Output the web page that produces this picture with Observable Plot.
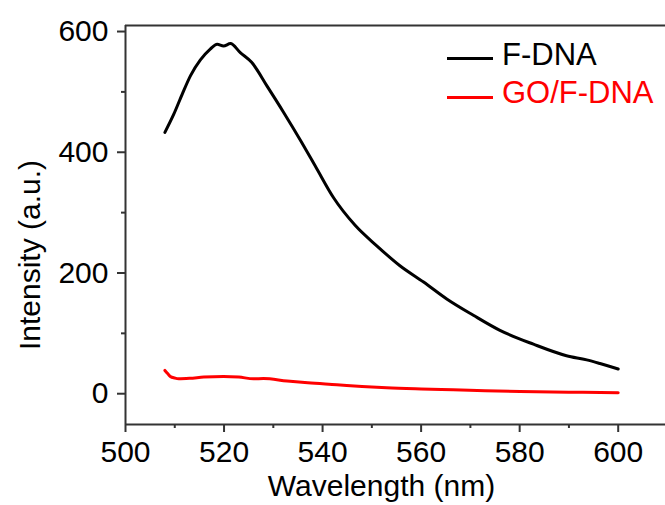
<!DOCTYPE html>
<html><head><meta charset="utf-8">
<script src="https://cdn.jsdelivr.net/npm/d3@7"></script>
<script src="https://cdn.jsdelivr.net/npm/@observablehq/plot@0.6"></script>
<style>
body{margin:0;background:#fff;}
#wrap{position:relative;width:665px;height:505px;overflow:hidden;font-family:"Liberation Sans",Arial,sans-serif;}
.sw{position:absolute;width:46px;height:3px;left:447px;}
.lt{position:absolute;left:502px;font-size:31px;line-height:31px;white-space:nowrap;}
</style></head><body><div id="wrap"></div>
<script>
// ---- data ----
const seriesNames = ["F-DNA", "GO/F-DNA"];
const seriesColors = ["#000000", "#ff0000"];

const fdnaWavelength = [508.0, 509.8, 511.5, 513.2, 515.2, 517.2, 518.6, 519.9, 521.3, 523.3, 525.6, 528.7, 532.1, 535.5, 538.6, 542.2, 546.6, 551.0, 555.7, 560.5, 565.2, 570.6, 576.0, 582.8, 589.5, 593.6, 596.3, 600.0];
const fdnaIntensity  = [433, 463, 496, 527, 553, 571, 579, 576, 580, 565, 549, 510, 466, 420, 376, 325, 279, 245, 212, 185, 157, 130, 105, 82, 63, 56, 50, 41];

const goWavelength = [508.0, 508.6, 509.1, 510.0, 510.8, 513.0, 515.9, 519.9, 523.0, 526.0, 528.0, 532.8, 537.0, 542.9, 548.0, 553.0, 560.0, 566.5, 573.0, 580.1, 590.0, 600.0];
const goIntensity  = [38.6, 33, 28.6, 26, 24.8, 25.5, 27.5, 28.6, 27.5, 24.8, 25, 20.9, 18, 14.9, 12, 9.9, 8, 6.6, 5, 3.8, 2.6, 1.6];

const xMajorTicks = [500, 520, 540, 560, 580, 600];
const xMinorTicks = [510, 530, 550, 570, 590];
const yMajorTicks = [0, 200, 400, 600];
const yMinorTicks = [100, 300, 500];
const xLabel = "Wavelength (nm)";
const yLabel = "Intensity (a.u.)";

// ---- build tables ----
const fdna = fdnaWavelength.map((w, i) => ({w, v: fdnaIntensity[i]}));
const go = goWavelength.map((w, i) => ({w, v: goIntensity[i]}));
const font = '"Liberation Sans", Arial, sans-serif';
const axisColor = "#333";

const chart = Plot.plot({
  width: 665, height: 505,
  marginLeft: 125, marginRight: 0, marginTop: 25, marginBottom: 81,
  style: {fontFamily: font, fontSize: "30px", color: "#000", background: "#fff", overflow: "visible"},
  x: {domain: [500, 609.6]},
  y: {domain: [-51, 610]},
  marks: [
    Plot.line(go, {x: "w", y: "v", stroke: seriesColors[1], strokeWidth: 3, curve: "monotone-x"}),
    Plot.line(fdna, {x: "w", y: "v", stroke: seriesColors[0], strokeWidth: 3, curve: "monotone-x"}),
    Plot.axisX({ticks: xMajorTicks, tickSize: 8, tickPadding: 8, tickFormat: d => String(d), label: null, stroke: axisColor, strokeWidth: 2, fill: "#000", fontSize: 30}),
    Plot.axisX({ticks: xMinorTicks, tickSize: 4, tickFormat: () => "", label: null, stroke: axisColor, strokeWidth: 2}),
    Plot.axisY({ticks: yMajorTicks, tickSize: 8, tickPadding: 9, tickFormat: d => String(d), label: null, stroke: axisColor, strokeWidth: 2, fill: "#000", fontSize: 30}),
    Plot.axisY({ticks: yMinorTicks, tickSize: 4, tickFormat: () => "", label: null, stroke: axisColor, strokeWidth: 2}),
    Plot.ruleX([500], {stroke: axisColor, strokeWidth: 2}),
    Plot.ruleY([-51], {stroke: axisColor, strokeWidth: 2}),
    Plot.ruleY([610], {stroke: axisColor, strokeWidth: 2}),
    Plot.text([xLabel], {frameAnchor: "bottom", textAnchor: "middle", dx: -14, dy: 62, lineAnchor: "middle", fontSize: 30, fill: "#000"}),
    Plot.text([yLabel], {frameAnchor: "left", textAnchor: "middle", rotate: -90, dx: -95, dy: 30, lineAnchor: "middle", fontSize: 30, fill: "#000"})
  ]
});
const wrap = document.getElementById("wrap");
wrap.appendChild(chart);

// ---- legend ----
const legendTops = [57, 96];
const textTops = [39, 77];
seriesNames.forEach((name, i) => {
  const sw = document.createElement("div");
  sw.className = "sw";
  sw.style.top = legendTops[i] + "px";
  sw.style.background = seriesColors[i];
  wrap.appendChild(sw);
  const t = document.createElement("div");
  t.className = "lt";
  t.style.top = textTops[i] + "px";
  t.style.color = seriesColors[i];
  t.textContent = name;
  wrap.appendChild(t);
});
</script>
</body></html>
